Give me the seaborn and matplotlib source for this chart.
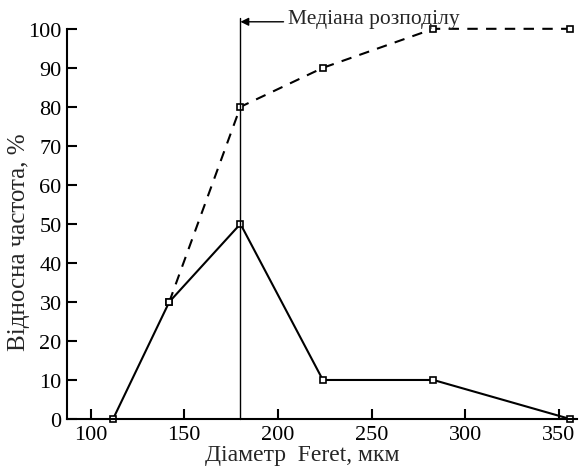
import matplotlib
matplotlib.use('Agg')
import matplotlib.pyplot as plt
import seaborn as sns
import pandas as pd

diametr = [112, 142, 180, 224, 283, 356]
chastota = [0, 30, 50, 10, 10, 0]
kum_diametr = [142, 180, 224, 283, 356]
kumulyatyvna = [30, 80, 90, 100, 100]
mediana = 180

sns.set_theme(style="ticks")
plt.rcParams['font.family'] = ['Liberation Serif', 'DejaVu Serif']

df = pd.DataFrame({'d': diametr, 'f': chastota})
dk = pd.DataFrame({'d': kum_diametr, 'f': kumulyatyvna})

fig = plt.figure(figsize=(5.79, 4.77), dpi=100)
ax = fig.add_axes([0.116, 0.1195, 0.880, 0.818])

sns.lineplot(data=df, x='d', y='f', ax=ax, color='black', lw=1.5,
             marker='s', markersize=5, markerfacecolor='white',
             markeredgecolor='black', markeredgewidth=1.2, clip_on=False)
sns.lineplot(data=dk, x='d', y='f', ax=ax, color='black', lw=1.5, linestyle=(0, (5, 4)),
             marker='s', markersize=5, markerfacecolor='white',
             markeredgecolor='black', markeredgewidth=1.2, clip_on=False)
ax.plot([mediana, mediana], [0, 102.8], color='black', lw=1, clip_on=False)

ax.annotate('', xy=(mediana, 101.8), xytext=(mediana + 23, 101.8),
            annotation_clip=False,
            arrowprops=dict(arrowstyle='-|>', color='black', lw=1, shrinkA=0, shrinkB=0,
                            mutation_scale=12))
ax.text(mediana + 25.5, 102.6, 'Медіана розподілу', fontsize=15.5, va='center', ha='left')

ax.set_xlim(87.5, 359.5)
ax.set_ylim(0, 100)
ax.set_xticks([100, 150, 200, 250, 300, 350])
ax.set_yticks(range(0, 101, 10))
ax.tick_params(direction='in', length=7, width=1.5, labelsize=16, colors='black', pad=4)
for s in ['left', 'bottom']:
    ax.spines[s].set_linewidth(1.5)
    ax.spines[s].set_color('black')
sns.despine(ax=ax)
ax.set_xlabel('Діаметр  Feret, мкм', fontsize=17)
ax.set_ylabel('Відносна частота, %', fontsize=18)
ax.xaxis.set_label_coords(0.461, -0.064)
ax.yaxis.set_label_coords(-0.073, 0.455)

fig.savefig('out.png', dpi=100)
